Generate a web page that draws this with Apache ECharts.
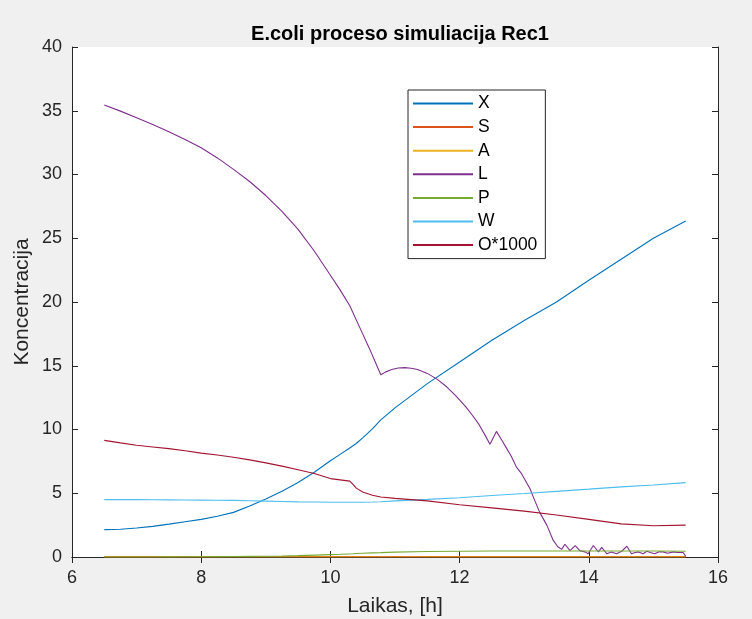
<!DOCTYPE html>
<html>
<head>
<meta charset="utf-8">
<script src="https://cdn.jsdelivr.net/npm/echarts@6/dist/echarts.min.js"></script>
<style>
html,body{margin:0;padding:0;background:#f0f0f0;}
#chart{width:752px;height:619px;}
</style>
</head>
<body>
<div id="chart"></div>
<script>
// Data
const titleText = "E.coli proceso simuliacija Rec1";
const xName = "Laikas, [h]";
const yName = "Koncentracija";
const seriesNames = ["X", "S", "A", "L", "P", "W", "O*1000"];

const tSmooth = [6.5, 6.75, 7.0, 7.25, 7.5, 7.75, 8.0, 8.25, 8.5, 8.75, 9.0, 9.25, 9.5, 9.75, 10.0, 10.15, 10.3, 10.35, 10.4, 10.5, 10.65, 10.78, 11.0, 11.5, 12.0, 12.5, 13.0, 13.5, 14.0, 14.5, 15.0, 15.5];
const X = [2.15, 2.18, 2.27, 2.4, 2.58, 2.77, 2.95, 3.2, 3.5, 4.0, 4.55, 5.15, 5.85, 6.65, 7.55, 8.05, 8.55, 8.72, 8.9, 9.35, 10.05, 10.75, 11.7, 13.6, 15.3, 17.0, 18.55, 20.0, 21.7, 23.35, 25.0, 26.35];
const S = [0.03, 0.03, 0.03, 0.03, 0.03, 0.03, 0.03, 0.03, 0.03, 0.03, 0.03, 0.03, 0.03, 0.03, 0.03, 0.03, 0.03, 0.03, 0.03, 0.03, 0.03, 0.03, 0.03, 0.03, 0.03, 0.03, 0.03, 0.03, 0.03, 0.03, 0.03, 0.03];
const A = [0, 0, 0, 0, 0, 0, 0, 0, 0, 0, 0, 0, 0, 0, 0, 0, 0, 0, 0, 0, 0, 0, 0, 0, 0, 0, 0, 0, 0, 0, 0, 0];
const P = [0, 0, 0, 0.005, 0.01, 0.015, 0.02, 0.03, 0.04, 0.05, 0.06, 0.08, 0.11, 0.15, 0.19, 0.21, 0.24, 0.25, 0.27, 0.29, 0.32, 0.34, 0.38, 0.43, 0.45, 0.47, 0.47, 0.47, 0.47, 0.47, 0.47, 0.45];
const W = [4.5, 4.5, 4.5, 4.49, 4.48, 4.47, 4.46, 4.45, 4.44, 4.41, 4.38, 4.35, 4.32, 4.31, 4.3, 4.3, 4.3, 4.3, 4.3, 4.3, 4.31, 4.33, 4.4, 4.52, 4.65, 4.82, 4.98, 5.15, 5.32, 5.5, 5.65, 5.83];
const O1000 = [9.15, 8.95, 8.76, 8.63, 8.5, 8.33, 8.15, 8.0, 7.82, 7.62, 7.38, 7.13, 6.85, 6.55, 6.15, 6.05, 5.95, 5.7, 5.4, 5.1, 4.85, 4.7, 4.6, 4.4, 4.1, 3.85, 3.6, 3.3, 2.95, 2.6, 2.45, 2.5];

const tL = [6.5, 6.75, 7.0, 7.25, 7.5, 7.75, 8.0, 8.25, 8.5, 8.75, 9.0, 9.25, 9.5, 9.75, 10.0, 10.15, 10.3, 10.45, 10.6, 10.78, 10.85, 10.95, 11.05, 11.15, 11.25, 11.35, 11.5, 11.65, 11.8, 11.95, 12.1, 12.2, 12.3, 12.4, 12.47, 12.57, 12.65, 12.73, 12.8, 12.88, 12.95, 13.09, 13.15, 13.24, 13.35, 13.45, 13.52, 13.58, 13.63, 13.71, 13.79, 13.86, 13.94, 13.99, 14.07, 14.15, 14.2, 14.28, 14.35, 14.43, 14.51, 14.59, 14.66, 14.72, 14.77, 14.84, 14.9, 14.95, 15.02, 15.08, 15.15, 15.22, 15.31, 15.38, 15.46, 15.5];
const L = [35.45, 34.97, 34.45, 33.93, 33.35, 32.75, 32.1, 31.3, 30.4, 29.45, 28.35, 27.1, 25.7, 24.0, 22.1, 20.95, 19.7, 18.05, 16.4, 14.3, 14.5, 14.7, 14.82, 14.85, 14.8, 14.7, 14.4, 13.95, 13.35, 12.6, 11.75, 11.1, 10.4, 9.5, 8.85, 9.85, 9.2, 8.5, 7.9, 7.05, 6.6, 5.35, 4.6, 3.5, 2.5, 1.3, 0.8, 0.6, 1.0, 0.5, 0.9, 0.5, 0.4, 0.25, 0.9, 0.4, 0.75, 0.25, 0.4, 0.25, 0.45, 0.85, 0.25, 0.35, 0.4, 0.25, 0.45, 0.35, 0.25, 0.4, 0.4, 0.3, 0.4, 0.35, 0.35, 0.05];

const xTicks = [6, 8, 10, 12, 14, 16];
const yTicks = [0, 5, 10, 15, 20, 25, 30, 35, 40];

const colors = ["#0072BD", "#D95319", "#EDB120", "#7E2F8E", "#77AC30", "#4DBEEE", "#A2142F"];

function pairs(t, v) { return t.map((x, i) => [x, v[i]]); }

const seriesData = [
  pairs(tSmooth, X),
  pairs(tSmooth, S),
  pairs(tSmooth, A),
  pairs(tL, L),
  pairs(tSmooth, P),
  pairs(tSmooth, W),
  pairs(tSmooth, O1000)
];

const font = "'Liberation Sans', Arial, Helvetica, sans-serif";
const txt = "#262626";

const chart = echarts.init(document.getElementById('chart'), null, {renderer: 'canvas'});

const commonAxisLine = {show: true, lineStyle: {color: txt, width: 1}};
const commonTick = {show: true, inside: true, length: 6, lineStyle: {color: txt, width: 1}};

chart.setOption({
  backgroundColor: '#f0f0f0',
  animation: false,
  title: {
    text: titleText,
    left: 395, top: 19, textAlign: 'center',
    textStyle: {fontFamily: font, fontWeight: 'bold', fontSize: 20, color: '#000'}
  },
  grid: {
    left: 72, right: 34, top: 47, bottom: 62,
    outerBoundsMode: 'none', containLabel: false,
    show: true, backgroundColor: '#ffffff', borderWidth: 0
  },
  legend: {
    orient: 'vertical',
    left: 408, top: 90,
    data: seriesNames,
    icon: 'rect',
    itemWidth: 60, itemHeight: 2,
    itemGap: 5.6,
    padding: [4.5, 8, 4.5, 5],
    backgroundColor: '#ffffff',
    borderColor: txt, borderWidth: 1, borderRadius: 0,
    textStyle: {fontFamily: font, fontSize: 17.5, color: '#000', lineHeight: 18, padding: [0, 0, 0, 0]},
    selectedMode: false
  },
  xAxis: [{
    type: 'value', min: 6, max: 16, interval: 2,
    name: xName, nameLocation: 'middle', nameGap: 39,
    nameMoveOverlap: false,
    nameTextStyle: {fontFamily: font, fontSize: 21, color: txt},
    axisLine: commonAxisLine, axisTick: commonTick,
    axisLabel: {fontFamily: font, fontSize: 18, color: txt, margin: 12,
      formatter: v => xTicks.includes(v) ? String(v) : ''},
    splitLine: {show: false}
  }, {
    type: 'value', min: 6, max: 16, interval: 2, position: 'top',
    axisLine: commonAxisLine, axisTick: commonTick,
    axisLabel: {show: false}, splitLine: {show: false}
  }],
  yAxis: [{
    type: 'value', min: 0, max: 40, interval: 5,
    name: yName, nameLocation: 'middle', nameGap: 39,
    nameMoveOverlap: false,
    nameTextStyle: {fontFamily: font, fontSize: 21, color: txt},
    axisLine: commonAxisLine, axisTick: commonTick,
    axisLabel: {fontFamily: font, fontSize: 18, color: txt, margin: 10,
      formatter: v => yTicks.includes(v) ? String(v) : ''},
    splitLine: {show: false}
  }, {
    type: 'value', min: 0, max: 40, interval: 5, position: 'right',
    axisLine: commonAxisLine, axisTick: commonTick,
    axisLabel: {show: false}, splitLine: {show: false}
  }],
  series: seriesNames.map((n, i) => ({
    name: n, type: 'line', data: seriesData[i],
    xAxisIndex: 0, yAxisIndex: 0,
    showSymbol: false, symbol: 'none',
    lineStyle: {color: colors[i], width: 1.1},
    itemStyle: {color: colors[i]},
    clip: true,
    z: 2 + i
  }))
});
</script>
</body>
</html>
